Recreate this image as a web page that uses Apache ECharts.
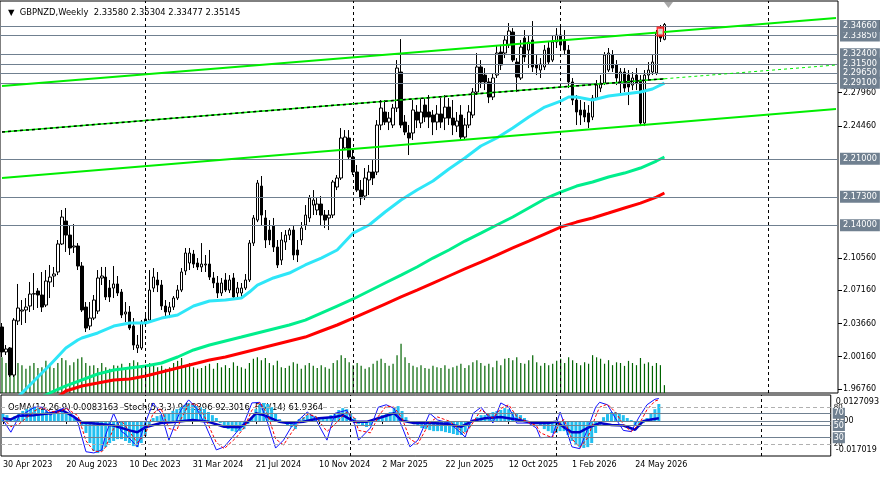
<!DOCTYPE html>
<html>
<head>
<meta charset="utf-8">
<title>GBPNZD Weekly</title>
<script src="https://cdn.jsdelivr.net/npm/echarts@6.0.0/dist/echarts.min.js"></script>
<style>
  html, body { margin: 0; padding: 0; background: #fff; }
  #chart { width: 882px; height: 478px; }
</style>
</head>
<body>
<div id="chart"></div>
<script>
// weekly bars, one category per week; chart area holds 210 slots (future space on the right)
const barCount = 210;
const tickEvery = 16;
const xTickLabels = ['30 Apr 2023', '20 Aug 2023', '10 Dec 2023', '31 Mar 2024', '21 Jul 2024', '10 Nov 2024',
  '2 Mar 2025', '22 Jun 2025', '12 Oct 2025', '1 Feb 2026', '24 May 2026'];
const yearSeparators = [36, 88, 140, 192];
const priceTicks = [1.9676, 2.0016, 2.0366, 2.0716, 2.1056, 2.2446, 2.2796];

const headerOHLC = [2.33580, 2.35304, 2.33477, 2.35145];
const bidPrice = 2.35145;
// horizontal levels (drawn in this order so the overlaps match)
const levelPrices = [2.3385, 2.3466, 2.3240, 2.3085, 2.3150, 2.2965, 2.2910, 2.2100, 2.1730, 2.1400];
const hiddenLevels = [2.2890];

const opens = [
2.0329,2.0066,2.0108,1.9823,2.0392,2.0497,2.0508,2.0550,2.0676,2.0708,
2.0666,2.0560,2.0803,2.0866,2.0908,2.1203,2.1445,2.1297,2.1171,2.1182,
2.0971,2.0539,2.0339,2.0423,2.0497,2.0845,2.0855,2.0739,2.0739,2.0782,
2.0697,2.0466,2.0487,2.0339,2.0108,2.0108,2.0371,2.0402,2.0739,2.0824,
2.0771,2.0550,2.0487,2.0539,2.0634,2.0718,2.0919,2.1003,2.1097,2.1003,
2.0961,2.0982,2.0992,2.0845,2.0792,2.0687,2.0824,2.0718,2.0845,2.0687,
2.0687,2.0739,2.0824,2.1213,2.1455,2.1813,2.1477,2.1350,2.1392,2.1171,
2.1034,2.1224,2.1297,2.1350,2.1140,2.1245,2.1403,2.1477,2.1613,2.1561,
2.1624,2.1508,2.1477,2.1508,2.1803,2.1898,2.2214,2.2319,2.2119,2.1961,
2.1771,2.1708,2.1877,2.1961,2.1961,2.2456,2.2593,2.2487,2.2456,2.2635,
2.3014,2.2487,2.2372,2.2372,2.2593,2.2477,2.2666,2.2593,2.2561,2.2487,
2.2572,2.2529,2.2645,2.2529,2.2445,2.2561,2.2329,2.2456,2.2561,2.2803,
2.3067,2.2982,2.2909,2.2751,2.2982,2.3224,2.3214,2.3298,2.3435,2.3119,
2.2951,2.3372,2.3245,2.3351,2.3088,2.3035,2.3067,2.3267,2.3140,2.3330,
2.3403,2.3351,2.3245,2.2909,2.2719,2.2614,2.2614,2.2582,2.2540,2.2740,
2.2845,2.2898,2.3035,2.3193,2.3088,2.2909,2.3014,2.2982,2.2877,2.2982,
2.2930,2.2477,2.2982,2.3014,2.3003,2.3477,2.33580];
const highs = [
2.0371,2.0139,2.0118,2.0423,2.0782,2.0613,2.0634,2.0803,2.0897,2.0739,
2.0908,2.0929,2.0982,2.0961,2.1245,2.1561,2.1582,2.1403,2.1413,2.1213,
2.1013,2.0592,2.0592,2.0666,2.0929,2.0961,2.0961,2.0824,2.0971,2.0866,
2.0729,2.0592,2.0550,2.0423,2.0245,2.0402,2.0487,2.0929,2.0950,2.0908,
2.0824,2.0613,2.0592,2.0655,2.0771,2.0950,2.1161,2.1161,2.1140,2.1055,
2.1213,2.1087,2.1140,2.0908,2.0866,2.0845,2.0897,2.0876,2.0897,2.0803,
2.0792,2.0887,2.1245,2.1508,2.1877,2.1919,2.1561,2.1455,2.1477,2.1245,
2.1329,2.1350,2.1371,2.1392,2.1245,2.1434,2.1613,2.1719,2.1771,2.1687,
2.1708,2.1561,2.1561,2.1877,2.1929,2.2424,2.2403,2.2403,2.2193,2.2035,
2.1877,2.2003,2.2035,2.2087,2.2508,2.2719,2.2719,2.2593,2.2677,2.3140,
2.3361,2.2561,2.2456,2.2719,2.2666,2.2740,2.2740,2.2772,2.2614,2.2666,
2.2740,2.2772,2.2740,2.2719,2.2593,2.2666,2.2529,2.2666,2.2845,2.3214,
2.3140,2.3056,2.2951,2.3003,2.3298,2.3298,2.3403,2.3530,2.3477,2.3161,
2.3351,2.3456,2.3403,2.3551,2.3193,2.3161,2.3298,2.3330,2.3403,2.3477,
2.3509,2.3456,2.3298,2.2951,2.2772,2.2719,2.2698,2.2666,2.2772,2.2930,
2.2982,2.3224,2.3267,2.3245,2.3140,2.3056,2.3056,2.3035,2.3014,2.3056,
2.2982,2.3035,2.3119,2.3193,2.3456,2.3509,2.35304];
const lows = [
2.0013,2.0034,1.9802,1.9802,2.0350,2.0350,2.0371,2.0487,2.0508,2.0529,
2.0487,2.0539,2.0634,2.0750,2.0876,2.1192,2.1119,2.1087,2.1108,2.0929,
2.0487,2.0276,2.0297,2.0402,2.0466,2.0771,2.0613,2.0592,2.0634,2.0655,
2.0423,2.0381,2.0297,2.0087,2.0055,2.0087,2.0329,2.0381,2.0697,2.0697,
2.0508,2.0423,2.0423,2.0508,2.0613,2.0697,2.0876,2.0929,2.0950,2.0929,
2.0908,2.0908,2.0824,2.0739,2.0634,2.0655,2.0697,2.0687,2.0613,2.0613,
2.0645,2.0718,2.0803,2.1182,2.1434,2.1403,2.1161,2.1192,2.1119,2.0950,
2.0982,2.1140,2.1245,2.1034,2.1013,2.1192,2.1350,2.1434,2.1508,2.1508,
2.1403,2.1371,2.1350,2.1477,2.1771,2.1877,2.2193,2.2087,2.1929,2.1750,
2.1613,2.1666,2.1719,2.1824,2.1929,2.2403,2.2456,2.2403,2.2424,2.2593,
2.2424,2.2350,2.2140,2.2298,2.2424,2.2424,2.2487,2.2424,2.2350,2.2403,
2.2424,2.2403,2.2456,2.2350,2.2382,2.2298,2.2298,2.2424,2.2529,2.2772,
2.2845,2.2824,2.2687,2.2719,2.2951,2.3035,2.3161,2.3267,2.3119,2.2803,
2.2930,2.3119,2.3056,2.3014,2.2982,2.2951,2.3035,2.3088,2.3119,2.3267,
2.3245,2.3193,2.2845,2.2666,2.2456,2.2456,2.2487,2.2424,2.2508,2.2719,
2.2803,2.2877,2.3014,2.3014,2.2877,2.2772,2.2803,2.2666,2.2824,2.2824,
2.2445,2.2445,2.2930,2.2982,2.2982,2.3330,2.33477];
const closes = [
2.0066,2.0097,1.9823,2.0402,2.0529,2.0508,2.0539,2.0676,2.0680,2.0666,
2.0539,2.0813,2.0855,2.0887,2.1203,2.1487,2.1297,2.1161,2.1182,2.0971,
2.0508,2.0318,2.0423,2.0613,2.0845,2.0866,2.0645,2.0645,2.0782,2.0687,
2.0455,2.0487,2.0318,2.0139,2.0139,2.0381,2.0413,2.0718,2.0855,2.0771,
2.0550,2.0487,2.0539,2.0634,2.0718,2.0908,2.1108,2.1108,2.0992,2.0961,
2.0992,2.0992,2.0855,2.0792,2.0687,2.0792,2.0718,2.0824,2.0645,2.0739,
2.0739,2.0824,2.1213,2.1477,2.1845,2.1508,2.1245,2.1245,2.1171,2.0982,
2.1245,2.1297,2.1350,2.1087,2.1087,2.1371,2.1508,2.1687,2.1666,2.1624,
2.1508,2.1455,2.1508,2.1856,2.1898,2.2319,2.2329,2.2119,2.1961,2.1771,
2.1687,2.1898,2.1961,2.1898,2.2456,2.2635,2.2487,2.2529,2.2635,2.3056,
2.2456,2.2382,2.2319,2.2614,2.2508,2.2593,2.2540,2.2540,2.2487,2.2572,
2.2487,2.2645,2.2529,2.2456,2.2498,2.2329,2.2456,2.2593,2.2803,2.3067,
2.2909,2.2909,2.2751,2.2951,2.3214,2.3088,2.3351,2.3446,2.3140,2.2961,
2.3277,2.3172,2.3330,2.3067,2.3056,2.3098,2.3245,2.3119,2.3330,2.3403,
2.3298,2.3245,2.2909,2.2719,2.2593,2.2561,2.2540,2.2487,2.2740,2.2877,
2.2898,2.3193,2.3214,2.3056,2.2951,2.3014,2.2845,2.2856,2.2951,2.2898,
2.2477,2.2982,2.3035,2.3119,2.3425,2.3372,2.35145];

// tick volume, thousands
const volumes = [
50,42,48,36,42,39,34,38,42,35, 36,45,41,35,42,49,46,39,43,48,
50,42,38,39,35,42,36,34,39,38, 41,36,42,46,43,38,35,42,39,36,
38,34,36,42,45,49,39,42,36,34, 35,38,41,34,42,36,39,35,43,38,
36,34,42,48,50,46,49,42,39,45, 36,35,38,43,41,34,39,42,38,35,
39,36,34,42,46,53,49,43,39,42, 38,34,36,41,45,48,42,38,41,53,
69,50,42,38,36,39,35,34,38,36, 35,39,34,36,38,41,35,39,43,46,
42,38,41,36,45,39,48,49,46,50, 42,41,46,53,43,38,42,39,41,45,
48,42,50,46,42,39,43,41,53,50, 48,41,46,39,43,42,38,45,42,39,
49,41,43,38,42,39,11];

// moving averages [bar, price]
const maFast = [[4,1.9592],[8,1.9760],[12,1.9929],[16,2.0108],[19,2.0192],[20,2.0213],[24,2.0266],[28,2.0339],
  [32,2.0371],[36,2.0371],[40,2.0423],[44,2.0455],[48,2.0550],[52,2.0603],[56,2.0613],[60,2.0634],[62,2.0697],
  [64,2.0771],[68,2.0845],[72,2.0897],[76,2.0982],[80,2.1055],[84,2.1140],[88,2.1318],[92,2.1403],[96,2.1540],
  [100,2.1666],[104,2.1771],[108,2.1866],[112,2.1993],[116,2.2108],[120,2.2235],[124,2.2319],[128,2.2424],
  [132,2.2540],[136,2.2645],[140,2.2708],[142,2.2751],[144,2.2751],[148,2.2719],[152,2.2761],[156,2.2782],
  [160,2.2803],[163,2.2835],[166,2.2898]];
const maMid = [[10,1.9592],[12,1.9634],[16,1.9708],[20,1.9771],[24,1.9834],[28,1.9876],[32,1.9897],[36,1.9918],
  [40,1.9950],[44,2.0013],[48,2.0087],[52,2.0139],[56,2.0181],[60,2.0223],[64,2.0266],[68,2.0308],[72,2.0350],
  [76,2.0402],[80,2.0476],[84,2.0550],[88,2.0624],[92,2.0708],[96,2.0792],[100,2.0876],[104,2.0961],[108,2.1055],
  [112,2.1140],[116,2.1234],[120,2.1318],[124,2.1403],[128,2.1487],[132,2.1582],[136,2.1677],[140,2.1750],
  [144,2.1813],[148,2.1856],[152,2.1908],[156,2.1950],[160,2.2003],[164,2.2077],[166,2.2119]];
const maSlow = [[14,1.9592],[16,1.9655],[20,1.9708],[24,1.9739],[28,1.9771],[32,1.9781],[36,1.9813],[40,1.9855],
  [44,1.9897],[48,1.9939],[52,1.9981],[56,2.0013],[60,2.0055],[64,2.0097],[68,2.0139],[72,2.0181],[76,2.0223],
  [80,2.0287],[84,2.0350],[88,2.0423],[92,2.0497],[96,2.0571],[100,2.0645],[104,2.0718],[108,2.0792],[112,2.0866],
  [116,2.0940],[120,2.1013],[124,2.1087],[128,2.1161],[132,2.1234],[136,2.1308],[140,2.1382],[144,2.1434],
  [148,2.1477],[152,2.1529],[156,2.1582],[160,2.1634],[164,2.1697],[166,2.1740]];

// channel lines [bar, price]
const trendUpper = [[0, 2.2867], [209, 2.3583]];
const trendMid = [[0, 2.2382], [166, 2.2943]];
const trendMidRay = [[166, 2.2943], [209, 2.3088]];
const trendLower = [[0, 2.1898], [209, 2.2624]];
const signalMarks = [[165, 2.3440]];

// indicators
const osmaMax = 0.0127093, osmaMin = -0.017019;
const osma = [
0.0039,0.0029,0.0015,0.0024,0.0039,0.0049,0.0058,0.0063,0.0068,0.0063,0.0054,0.0049,0.0044,
0.0039,0.0039,0.0049,0.0044,0.0029,0.0019,0.0010,
-0.0019,-0.0058,-0.0107,-0.0146,-0.0156,-0.0146,-0.0127,-0.0107,-0.0097,-0.0088,-0.0088,-0.0097,-0.0107,-0.0122,-0.0127,-0.0107,-0.0073,-0.0029,
0.0015,0.0024,0.0029,0.0034,0.0039,0.0049,0.0058,0.0068,0.0078,0.0088,0.0083,0.0073,0.0068,0.0058,0.0044,0.0029,0.0015,
-0.0010,-0.0024,-0.0039,-0.0049,-0.0054,-0.0049,-0.0039,
-0.0015,0.0019,0.0058,0.0078,0.0088,0.0083,0.0068,0.0039,
0.0010,-0.0010,-0.0019,-0.0029,-0.0039,
0.0010,0.0019,0.0029,0.0029,0.0024,0.0019,0.0015,0.0015,0.0029,0.0039,0.0054,0.0063,0.0058,0.0039,0.0015,
-0.0015,-0.0024,-0.0029,-0.0019,-0.0005,
0.0019,0.0029,0.0034,0.0044,0.0063,0.0073,0.0049,0.0019,0.0000,
-0.0015,-0.0024,-0.0034,-0.0039,-0.0044,-0.0049,-0.0049,-0.0049,-0.0054,-0.0058,-0.0063,-0.0068,-0.0068,-0.0054,-0.0029,
0.0005,0.0019,0.0029,0.0029,0.0034,0.0044,0.0049,0.0054,0.0063,0.0058,0.0044,0.0039,0.0029,
0.0015,0.0000,-0.0010,-0.0015,-0.0024,-0.0039,-0.0049,-0.0058,-0.0058,-0.0049,-0.0049,-0.0068,-0.0097,-0.0117,-0.0127,-0.0131,-0.0127,-0.0107,
-0.0058,-0.0019,
0.0019,0.0034,0.0044,0.0044,0.0039,0.0029,0.0015,0.0005,
-0.0019,-0.0029,-0.0010,0.0015,0.0039,0.0058,0.0083163];
const stochMain = [[0,59],[2,39],[4,64],[8,80],[10,80],[12,67],[14,75],[16,80],[19,54],[21,7],[23,5],[25,10],
  [26,35],[28,70],[30,40],[31,36],[34,15],[36,54],[38,87],[40,70],[42,26],[44,60],[45,75],[47,92],[49,78],[51,54],
  [54,10],[56,15],[59,38],[61,54],[63,87],[65,88],[67,54],[69,13],[71,26],[73,48],[75,60],[77,72],[79,62],[82,26],
  [84,70],[87,75],[89,52],[90,26],[93,46],[95,80],[97,84],[99,78],[101,48],[103,15],[105,26],[108,70],[110,59],
  [113,54],[115,43],[117,31],[119,70],[121,80],[124,54],[126,87],[128,80],[130,54],[133,54],[135,46],[136,30],
  [139,31],[141,72],[142,54],[144,15],[146,12],[148,45],[150,80],[151,88],[153,84],[155,62],[157,42],[159,40],
  [161,64],[163,84],[165,93],[166,94.2396]];
const stochSignal = [[0,62],[2,48],[4,52],[8,74],[10,80],[12,73],[14,72],[16,78],[19,66],[21,25],[23,8],[25,7],
  [26,15],[28,45],[30,58],[34,22],[36,35],[38,70],[40,78],[42,45],[44,42],[45,60],[47,85],[49,85],[51,65],[54,22],
  [56,12],[59,30],[61,46],[63,75],[65,88],[67,68],[69,28],[71,18],[73,38],[75,55],[77,68],[79,66],[82,40],[84,52],
  [87,72],[89,62],[90,42],[93,38],[95,65],[97,82],[99,80],[101,62],[103,28],[105,20],[108,55],[110,64],[113,57],
  [115,47],[117,36],[119,55],[121,76],[124,62],[126,78],[128,84],[130,65],[133,55],[135,50],[136,38],[139,30],
  [141,55],[142,60],[144,28],[146,14],[148,30],[150,65],[151,80],[153,85],[155,72],[157,52],[159,40],[161,52],
  [163,76],[165,90],[166,92.3016]];
const rsi = [[0,62],[2,60],[4,66],[8,67],[12,70],[15,75],[18,64],[20,55],[24,53],[28,50],[32,42],[34,39],[36,47],
  [40,54],[44,56],[48,59],[52,56],[56,48],[60,47],[62,56],[64,70],[66,67],[70,56],[72,54],[76,56],[80,62],[84,64],
  [86,67],[89,56],[92,56],[96,64],[99,70],[101,58],[104,54],[108,54],[112,53],[116,48],[119,58],[122,62],[126,64],
  [130,60],[134,54],[138,54],[140,56],[142,47],[144,39],[146,39],[148,46],[151,54],[154,51],[157,50],[160,43],
  [162,57],[164,60],[166,61.9364]];
const stochLevels = [80, 20];
const rsiLevels = [70, 50, 30];

const font = 'DejaVu Sans';
const slate = '#708090';
const fmt5 = v => v.toFixed(5);

const barIdx = Array.from({ length: barCount }, (_, i) => i);
const candles = opens.map((o, i) => [o, closes[i], lows[i], highs[i]]);
const isTick = i => i % tickEvery === 0 && i / tickEvery < xTickLabels.length;

const levelItem = (v, lineColor, bg) => ({
  yAxis: v,
  lineStyle: { color: lineColor, width: 1, type: 'solid' },
  label: {
    show: true, position: 'end', distance: 2, formatter: fmt5(v),
    backgroundColor: bg, color: '#fff', padding: [2, 3, 2, 3], fontSize: 8.2, fontFamily: font
  }
});

const separatorLines = yearSeparators.map(b => ({ xAxis: b }));

const lineSeries = (name, data, color, width, extra) => Object.assign({
  name, type: 'line', xAxisIndex: 0, yAxisIndex: 0, data, symbol: 'none', silent: true,
  lineStyle: { color, width }, z: 4
}, extra || {});

const chart = echarts.init(document.getElementById('chart'));

const option = {
  animation: false,
  backgroundColor: '#fff',
  textStyle: { fontFamily: font },
  title: [
    {
      text: '\u25BC  GBPNZD,Weekly  ' + headerOHLC.map(fmt5).join(' '),
      left: 3, top: 4, z: 0,
      textStyle: { fontSize: 8.4, fontWeight: 'normal', color: '#000', fontFamily: font }
    },
    {
      text: 'OsMA(12,26,9) ' + osma[osma.length - 1] + '  Stoch(5,3,3) ' +
        stochMain[stochMain.length - 1][1] + ' ' + stochSignal[stochSignal.length - 1][1] +
        '  RSI(14) ' + rsi[rsi.length - 1][1],
      left: 3, top: 399, z: 0,
      textStyle: { fontSize: 8.4, fontWeight: 'normal', color: '#000', fontFamily: font }
    }
  ],
  graphic: [
    { type: 'polygon', shape: { points: [[664, 2], [673, 2], [668.5, 8]] }, style: { fill: '#a8a8a8' } }
  ],
  grid: [
    { left: 0, right: 44, top: 1, height: 392, show: true, borderColor: '#000', borderWidth: 1 },
    { left: 0, right: 44, top: 395, height: 61, show: true, borderColor: '#000', borderWidth: 1 }
  ],
  xAxis: [
    {
      type: 'category', gridIndex: 0, data: barIdx, boundaryGap: true,
      axisLine: { show: false }, axisTick: { show: false }, axisLabel: { show: false }, splitLine: { show: false }
    },
    {
      type: 'category', gridIndex: 1, data: barIdx, boundaryGap: true,
      axisLine: { show: false },
      axisTick: { show: true, alignWithLabel: true, interval: isTick, length: 3, lineStyle: { color: '#000' } },
      axisLabel: {
        interval: isTick, formatter: (v, i) => xTickLabels[i / tickEvery],
        align: 'left', color: '#000', fontSize: 8, fontFamily: font, margin: 5
      },
      splitLine: { show: false }
    }
  ],
  yAxis: [
    {
      type: 'value', gridIndex: 0, position: 'right', min: 1.96339, max: 2.3762,
      axisLine: { show: false }, splitLine: { show: false },
      axisTick: { show: true, customValues: priceTicks, length: 4, lineStyle: { color: '#000' } },
      axisLabel: { customValues: priceTicks, formatter: v => fmt5(v), color: '#000', fontSize: 8, fontFamily: font, margin: 5 }
    },
    { type: 'value', gridIndex: 0, min: 0, max: 549, show: false },
    {
      type: 'value', gridIndex: 1, position: 'right', min: osmaMin, max: osmaMax,
      axisLine: { show: false }, splitLine: { show: false }, axisTick: { show: false },
      axisLabel: {
        customValues: [osmaMax, 0, osmaMin],
        formatter: v => v === osmaMax ? '{hi|' + osmaMax + '}' : (v === osmaMin ? '{lo|' + osmaMin + '}' : '0.00'),
        color: '#000', fontSize: 8, fontFamily: font, margin: 5,
        rich: {
          hi: { padding: [13, 0, 0, 0], fontSize: 8, fontFamily: font, color: '#000' },
          lo: { padding: [0, 0, 12, 0], fontSize: 8, fontFamily: font, color: '#000' }
        }
      }
    },
    { type: 'value', gridIndex: 1, min: 0, max: 100, show: false }
  ],
  series: [
    {
      name: 'Volume', type: 'bar', xAxisIndex: 0, yAxisIndex: 1, data: volumes,
      barWidth: 1.2, itemStyle: { color: '#006400' }, silent: true, z: 1
    },
    {
      name: 'Levels', type: 'line', xAxisIndex: 0, yAxisIndex: 0, data: [], z: 2, silent: true,
      markLine: {
        silent: true, symbol: 'none', animation: false,
        data: [
          levelItem(bidPrice, '#c0c0c0', '#000'),
          ...levelPrices.map(v => levelItem(v, slate, slate)),
          ...hiddenLevels.map(v => ({ yAxis: v, lineStyle: { color: slate, width: 1, type: 'solid' }, label: { show: false } })),
          ...separatorLines.map(d => Object.assign({}, d, { lineStyle: { color: '#000', width: 1, type: [3, 3] }, label: { show: false } }))
        ]
      }
    },
    {
      name: 'GBPNZD', type: 'candlestick', xAxisIndex: 0, yAxisIndex: 0, data: candles, barWidth: 3, silent: true,
      itemStyle: { color: '#fff', color0: '#000', borderColor: '#000', borderColor0: '#000', borderWidth: 1 }, z: 3
    },
    lineSeries('MA slow', maSlow, '#ff0000', 3),
    lineSeries('MA mid', maMid, '#00ee8c', 3),
    lineSeries('MA fast', maFast, '#2ee6f8', 3),
    lineSeries('Channel upper', trendUpper, '#00ee00', 2, { z: 5 }),
    lineSeries('Channel lower', trendLower, '#00ee00', 2, { z: 5 }),
    lineSeries('Channel mid', trendMid, '#00ee00', 1.5, { z: 5 }),
    lineSeries('Channel mid dash', trendMid, '#000', 1.5, { z: 5, lineStyle: { color: '#000', width: 1.5, type: [3, 3] } }),
    lineSeries('Channel mid ray', trendMidRay, '#00ee00', 1, { z: 5, lineStyle: { color: '#00ee00', width: 1, type: [3, 3] } }),
    {
      name: 'Signal', type: 'scatter', xAxisIndex: 0, yAxisIndex: 0, data: signalMarks, silent: true,
      symbol: 'emptyRect', symbolSize: [6, 8], itemStyle: { color: '#ff0000', borderColor: '#ff0000', borderWidth: 1 }, z: 6
    },
    {
      name: 'OsMA', type: 'bar', xAxisIndex: 1, yAxisIndex: 2, data: osma, barWidth: 3, silent: true,
      itemStyle: { color: '#22bff0' }, z: 1,
      markLine: {
        silent: true, symbol: 'none', animation: false,
        data: [
          { yAxis: 0, lineStyle: { color: slate, width: 1, type: 'solid' }, label: { show: false } },
          ...separatorLines.map(d => Object.assign({}, d, { lineStyle: { color: '#000', width: 1, type: [3, 3] }, label: { show: false } }))
        ]
      }
    },
    {
      name: 'Levels osc', type: 'line', xAxisIndex: 1, yAxisIndex: 3, data: [], z: 2, silent: true,
      markLine: {
        silent: true, symbol: 'none', animation: false,
        data: [
          ...stochLevels.map(v => ({
            yAxis: v, lineStyle: { color: '#b0b0b0', width: 1, type: [4, 3] },
            label: { show: true, position: 'end', distance: 3, formatter: String(v), color: '#000', fontSize: 7, fontFamily: font }
          })),
          ...rsiLevels.map(v => ({
            yAxis: v, lineStyle: { color: slate, width: 1, type: 'solid' },
            label: { show: true, position: 'end', distance: 2, formatter: String(v), backgroundColor: slate, color: '#fff',
              padding: [2, 1, 1, 1], fontSize: 8, fontFamily: font }
          }))
        ]
      }
    },
    {
      name: 'RSI', type: 'line', xAxisIndex: 1, yAxisIndex: 3, data: rsi, symbol: 'none', silent: true,
      lineStyle: { color: '#0000c8', width: 2.5 }, z: 3
    },
    {
      name: 'Stoch', type: 'line', xAxisIndex: 1, yAxisIndex: 3, data: stochMain, symbol: 'none', silent: true,
      lineStyle: { color: '#1010ff', width: 1 }, z: 4
    },
    {
      name: 'Stoch signal', type: 'line', xAxisIndex: 1, yAxisIndex: 3, data: stochSignal, symbol: 'none', silent: true,
      lineStyle: { color: '#ff0000', width: 1, type: [3, 2] }, z: 4
    }
  ]
};

chart.setOption(option);
window.addEventListener('resize', () => chart.resize());
</script>
</body>
</html>
